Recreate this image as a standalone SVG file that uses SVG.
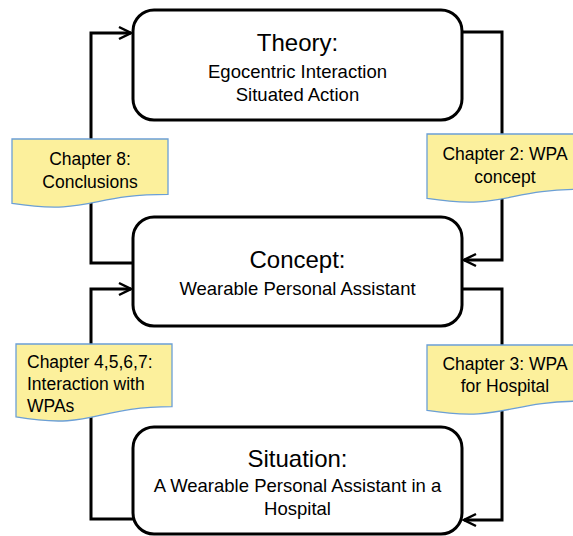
<svg xmlns="http://www.w3.org/2000/svg" width="573" height="536" viewBox="0 0 573 536">
<style>
.box{fill:#fff;stroke:#000;stroke-width:3}
.conn{fill:none;stroke:#000;stroke-width:3;stroke-linejoin:miter}
.note{fill:#FCF09C;stroke:#6B9FD6;stroke-width:1.3}
.title{font-family:"Liberation Sans",Arial,sans-serif;font-size:24px;fill:#000;text-anchor:middle}
.sub{font-family:"Liberation Sans",Arial,sans-serif;font-size:18.5px;fill:#000;text-anchor:middle}
.nt{font-family:"Liberation Sans",Arial,sans-serif;font-size:17.5px;fill:#000}
</style>
<defs>
<marker id="arr" markerUnits="userSpaceOnUse" markerWidth="16" markerHeight="16" viewBox="0 0 16 16" refX="14" refY="8" orient="auto">
<path d="M2,2 L14,8 L2,14" fill="none" stroke="#000" stroke-width="2.5"/>
</marker>
</defs>
<g id="connectors">
<path class="conn" d="M133,263 H91 V33 H131" marker-end="url(#arr)"/>
<path class="conn" d="M462,32 H502 V260 H464" marker-end="url(#arr)"/>
<path class="conn" d="M133,519 H91 V289 H131" marker-end="url(#arr)"/>
<path class="conn" d="M462,289 H502 V520 H464" marker-end="url(#arr)"/>
</g>
<g id="theory">
<rect class="box" x="133" y="10" width="329" height="110" rx="21"/>
<text class="title" x="297.5" y="51">Theory:</text>
<text class="sub" x="297.5" y="78">Egocentric Interaction</text>
<text class="sub" x="297.5" y="101">Situated Action</text>
</g>
<g id="concept">
<rect class="box" x="133" y="217" width="329" height="109" rx="21"/>
<text class="title" x="297.5" y="268">Concept:</text>
<text class="sub" x="297.5" y="295">Wearable Personal Assistant</text>
</g>
<g id="situation">
<rect class="box" x="133" y="427" width="329" height="107" rx="21"/>
<text class="title" x="297.5" y="467">Situation:</text>
<text class="sub" x="297.5" y="492">A Wearable Personal Assistant in a</text>
<text class="sub" x="297.5" y="515">Hospital</text>
</g>
<g id="note-ch8">
<path class="note" d="M12,139 H168 V194.3 C90,194.3 90,215.4 12,203.4 Z"/>
<text class="nt" x="90" y="165" text-anchor="middle">Chapter 8:</text>
<text class="nt" x="90" y="188" text-anchor="middle">Conclusions</text>
</g>
<g id="note-ch2">
<path class="note" d="M427,134 H583 V189.3 C505,189.3 505,210.4 427,198.4 Z"/>
<text class="nt" x="505" y="160" text-anchor="middle">Chapter 2: WPA</text>
<text class="nt" x="505" y="183" text-anchor="middle">concept</text>
</g>
<g id="note-ch4567">
<path class="note" d="M16,344 H172 V406.6 C94,406.6 94,430.3 16,416.9 Z"/>
<text class="nt" x="27" y="368">Chapter 4,5,6,7:</text>
<text class="nt" x="27" y="390">Interaction with</text>
<text class="nt" x="27" y="412">WPAs</text>
</g>
<g id="note-ch3">
<path class="note" d="M427,345 H583 V401.1 C505,401.1 505,422.5 427,410.4 Z"/>
<text class="nt" x="505" y="370" text-anchor="middle">Chapter 3: WPA</text>
<text class="nt" x="505" y="392" text-anchor="middle">for Hospital</text>
</g>
</svg>
